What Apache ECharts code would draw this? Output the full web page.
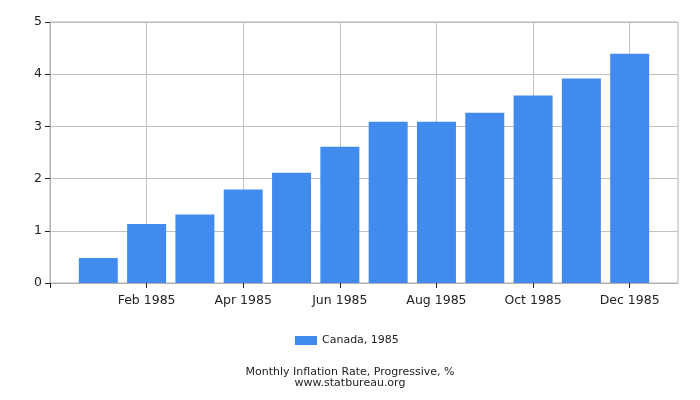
<!DOCTYPE html>
<html>
<head>
<meta charset="utf-8">
<script src="https://cdn.jsdelivr.net/npm/echarts@6/dist/echarts.min.js"></script>
<style>
  html, body { margin: 0; padding: 0; background: #fff; }
  #chart { width: 700px; height: 400px; }
</style>
</head>
<body>
<div id="chart"></div>
<script>
const months = ['Jan 1985', 'Feb 1985', 'Mar 1985', 'Apr 1985', 'May 1985', 'Jun 1985',
                'Jul 1985', 'Aug 1985', 'Sep 1985', 'Oct 1985', 'Nov 1985', 'Dec 1985'];
const values = [0.48, 1.13, 1.31, 1.79, 2.11, 2.61, 3.09, 3.09, 3.26, 3.59, 3.92, 4.39];
const xTickPositions = [0, 2, 4, 6, 8, 10, 12];
const seriesName = 'Canada, 1985';
const titleText = 'Monthly Inflation Rate, Progressive, %';
const subText = 'www.statbureau.org';

const chart = echarts.init(document.getElementById('chart'), null, { renderer: 'canvas' });
const font = 'DejaVu Sans';
chart.setOption({
  animation: false,
  backgroundColor: '#fff',
  textStyle: { fontFamily: font },
  title: {
    text: titleText,
    subtext: subText,
    left: 'center',
    top: 362,
    itemGap: 0,
    textStyle: { fontFamily: font, fontSize: 11, fontWeight: 'normal', color: '#222' },
    subtextStyle: { fontFamily: font, fontSize: 11, color: '#222' }
  },
  legend: {
    data: [seriesName],
    left: 290,
    top: 330,
    itemWidth: 22,
    itemHeight: 9,
    itemGap: 10,
    icon: 'rect',
    textStyle: { fontFamily: font, fontSize: 11, color: '#222' }
  },
  grid: {
    left: 50, right: 22, top: 22, bottom: 117,
    show: true, borderColor: '#b0b0b0', borderWidth: 1
  },
  xAxis: {
    type: 'value',
    min: 0, max: 13, interval: 2,
    axisLine: { show: true, lineStyle: { color: '#b0b0b0' } },
    axisTick: { show: true, length: 5, customValues: xTickPositions, lineStyle: { color: '#222' } },
    splitLine: { show: true, lineStyle: { color: '#c0c0c0' } },
    axisLabel: {
      fontFamily: font, fontSize: 12.5, color: '#222', margin: 11,
      formatter: v => (v >= 1 && v <= months.length) ? months[v - 1] : ''
    }
  },
  yAxis: {
    type: 'value',
    min: 0, max: 5, interval: 1,
    axisLine: { show: true, lineStyle: { color: '#b0b0b0' } },
    axisTick: { show: true, length: 5, lineStyle: { color: '#222' } },
    splitLine: { show: true, lineStyle: { color: '#c0c0c0' } },
    axisLabel: { fontFamily: font, fontSize: 12.5, color: '#222', margin: 8 }
  },
  series: [{
    name: seriesName,
    type: 'bar',
    barWidth: 39,
    itemStyle: { color: '#428BEE' },
    data: values.map((v, i) => [i + 1, v])
  }]
});
</script>
</body>
</html>
